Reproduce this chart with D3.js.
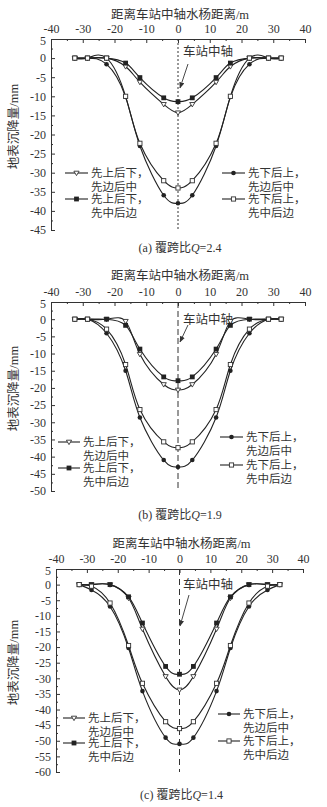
<!DOCTYPE html>
<html lang="zh">
<head>
    <meta charset="UTF-8">
    <title>地表沉降量</title>
    <script src="https://d3js.org/d3.v7.min.js"></script>
    <style>
        body { margin: 0; background: #fff; }
        text { font-family: "Liberation Serif", "Noto Sans CJK SC", serif; fill: #333; }
        .axis path, .axis line { stroke: #333; stroke-width: 1; }
        .axis text { font-size: 12px; font-family: "Liberation Serif", serif; fill: #333; }
    </style>
</head>
<body>
    <div id="chart"></div>

    <script>
        // horizontal distance of each measuring point (m)
        const distance = [-32.5, -28.5, -22.5, -16.5, -12, -4.5, 0, 4.5, 12, 16.5, 22.5, 28.5, 32.5];

        const legendLabels = [
            ["先上后下，", "先边后中"],
            ["先上后下，", "先中后边"],
            ["先下后上，", "先边后中"],
            ["先下后上，", "先中后边"]
        ];
        const markerKinds = ["triangle", "filledSquare", "filledCircle", "openSquare"];

        const xTicks = [-40, -30, -20, -10, 0, 10, 20, 30, 40];

        // (a) Q = 2.4
        const a_s1 = [0, 0, 0, -2.2, -6.3, -12.1, -14.3, -12.1, -6.3, -2.2, 0, 0, 0];
        const a_s2 = [0, 0, 0, -1.3, -5.1, -10.4, -11.4, -10.4, -5.1, -1.3, 0, 0, 0];
        const a_s3 = [0, 0, -1.6, -10.2, -23, -35.9, -38, -35.9, -23, -10.2, -1.6, 0, 0];
        const a_s4 = [0, 0, 0, -10, -22.3, -32.1, -34, -32.1, -22.3, -10, 0, 0, 0];

        // (b) Q = 1.9
        const b_s1 = [0, 0, 0, -0.6, -10.2, -19, -20.6, -19, -10.2, -0.6, 0, 0, 0];
        const b_s2 = [0, 0, 0, -1.8, -8.7, -16.8, -17.9, -16.8, -8.7, -1.8, 0, 0, 0];
        const b_s3 = [0, 0, -4.1, -15, -28.6, -41, -43, -41, -28.6, -15, -4.1, 0, 0];
        const b_s4 = [0, 0, -2.9, -13.2, -26.3, -35.7, -37.4, -35.7, -26.3, -13.2, -2.9, 0, 0];

        // (c) Q = 1.4
        const c_s1 = [0, 0, 0, -4.3, -14.2, -29.4, -33.7, -29.4, -14.2, -4.3, 0, 0, 0];
        const c_s2 = [0, 0, 0, -3.9, -12.3, -26.2, -28.7, -26.2, -12.3, -3.9, 0, 0, 0];
        const c_s3 = [0, -1.7, -7, -20.3, -34.1, -49, -51, -49, -34.1, -20.3, -7, -1.7, 0];
        const c_s4 = [0, -0.5, -5.9, -19.5, -31.6, -43.9, -46.1, -43.9, -31.6, -19.5, -5.9, -0.5, 0];

        const panels = [
            { series: [a_s1, a_s2, a_s3, a_s4], yMin: -45, x0: 51, x1: 305, yTop: 39, yBot: 230,
              title: 15, caption: 252, tag: "(a)", q: "2.4", dash: "2,2",
              note: [183, 52], arrow: [188, 64, 180, 88],
              legL: [65, 88, 173, 199], legR: [222, 245, 173, 199] },
            { series: [b_s1, b_s2, b_s3, b_s4], yMin: -50, x0: 51, x1: 305, yTop: 302, yBot: 491,
              title: 276, caption: 519, tag: "(b)", q: "1.9", dash: "6,3",
              note: [183, 320], arrow: [188, 325, 180, 342],
              legL: [58, 80, 442, 468], legR: [220, 243, 437, 465] },
            { series: [c_s1, c_s2, c_s3, c_s4], yMin: -60, x0: 56, x1: 303, yTop: 569, yBot: 772,
              title: 544, caption: 799, tag: "(c)", q: "1.4", dash: "6,4",
              note: [183, 585], arrow: [189, 595, 180, 626],
              legL: [63, 85, 718, 743], legR: [218, 240, 714, 741] }
        ];

        const svg = d3.select("#chart").append("svg")
            .attr("width", 327).attr("height", 807);

        svg.append("defs").append("marker")
            .attr("id", "head")
            .attr("viewBox", "0 0 10 10")
            .attr("refX", 9).attr("refY", 5)
            .attr("markerWidth", 7).attr("markerHeight", 7)
            .attr("orient", "auto")
            .append("path")
            .attr("d", "M0,1L10,5L0,9Z")
            .attr("fill", "#333");

        function drawMarker(g, kind, cx, cy) {
            if (kind === "triangle") {
                g.append("path")
                    .attr("d", `M${cx - 2.6},${cy - 1.8}L${cx + 2.6},${cy - 1.8}L${cx},${cy + 2.6}Z`)
                    .attr("fill", "#fff").attr("stroke", "#333").attr("stroke-width", 0.9);
            } else if (kind === "filledSquare") {
                g.append("rect").attr("x", cx - 2.4).attr("y", cy - 2.4)
                    .attr("width", 4.8).attr("height", 4.8).attr("fill", "#222");
            } else if (kind === "filledCircle") {
                g.append("circle").attr("cx", cx).attr("cy", cy).attr("r", 2.3).attr("fill", "#222");
            } else {
                g.append("rect").attr("x", cx - 2.1).attr("y", cy - 2.1)
                    .attr("width", 4.2).attr("height", 4.2)
                    .attr("fill", "#fff").attr("stroke", "#333").attr("stroke-width", 0.9);
            }
        }

        panels.forEach(p => {
            const x = d3.scaleLinear().domain([-40, 40]).range([p.x0, p.x1]);
            const y = d3.scaleLinear().domain([5, p.yMin]).range([p.yTop, p.yBot]);
            const g = svg.append("g");
            const mid = (p.x0 + p.x1) / 2 + 2;

            // top axis with minor ticks
            g.append("g").attr("class", "axis")
                .attr("transform", `translate(0,${p.yTop})`)
                .call(d3.axisTop(x).tickValues(xTicks).tickSizeInner(-4).tickSizeOuter(0)
                    .tickPadding(6).tickFormat(d => d));
            g.append("g").attr("class", "axis")
                .attr("transform", `translate(0,${p.yTop})`)
                .call(d3.axisTop(x).tickValues(d3.range(-35, 40, 10)).tickSizeInner(-2)
                    .tickSizeOuter(0).tickFormat(""))
                .select(".domain").remove();

            // left axis with minor ticks
            const yTicks = d3.range(5, p.yMin - 1, -5);
            g.append("g").attr("class", "axis")
                .attr("transform", `translate(${p.x0},0)`)
                .call(d3.axisLeft(y).tickValues(yTicks).tickSizeInner(-4).tickSizeOuter(0)
                    .tickPadding(5).tickFormat(d => d))
                .selectAll(".tick text")
                .attr("dy", d => d === 5 ? "0.45em" : "0.32em");
            g.append("g").attr("class", "axis")
                .attr("transform", `translate(${p.x0},0)`)
                .call(d3.axisLeft(y).tickValues(d3.range(2.5, p.yMin, -5)).tickSizeInner(-2)
                    .tickSizeOuter(0).tickFormat(""))
                .select(".domain").remove();

            // axis titles
            g.append("text")
                .attr("x", mid).attr("y", p.title)
                .attr("dy", "0.35em")
                .attr("text-anchor", "middle")
                .style("font-size", "12.5px")
                .text("距离车站中轴水杨距离/m");
            g.append("text")
                .attr("transform", `translate(14,${(p.yTop + p.yBot) / 2 - 8}) rotate(-90)`)
                .attr("dy", "0.35em")
                .attr("text-anchor", "middle")
                .style("font-size", "12.5px")
                .text("地表沉降量/mm");

            // station centre line
            g.append("line")
                .attr("x1", x(0)).attr("x2", x(0))
                .attr("y1", p.yTop).attr("y2", p.yBot)
                .attr("stroke", "#333").attr("stroke-width", 1)
                .attr("stroke-dasharray", p.dash);
            g.append("text")
                .attr("x", p.note[0]).attr("y", p.note[1])
                .attr("dy", "0.35em")
                .style("font-size", "12.5px")
                .text("车站中轴");
            g.append("line")
                .attr("x1", p.arrow[0]).attr("y1", p.arrow[1])
                .attr("x2", p.arrow[2]).attr("y2", p.arrow[3])
                .attr("stroke", "#333").attr("stroke-width", 0.9)
                .attr("marker-end", "url(#head)");

            // curves
            const line = d3.line()
                .x((d, i) => x(distance[i]))
                .y(d => y(d))
                .curve(d3.curveNatural);
            p.series.forEach(vals => {
                g.append("path")
                    .datum(vals)
                    .attr("d", line)
                    .attr("fill", "none")
                    .attr("stroke", "#222")
                    .attr("stroke-width", 1.1);
            });
            p.series.forEach((vals, si) => {
                vals.forEach((v, i) => drawMarker(g, markerKinds[si], x(distance[i]), y(v)));
            });

            // legends
            const legend = (lx0, lx1, ya, yb, first) => {
                [ya, yb].forEach((ly, k) => {
                    const si = first + k;
                    g.append("line")
                        .attr("x1", lx0).attr("x2", lx1)
                        .attr("y1", ly).attr("y2", ly)
                        .attr("stroke", "#222").attr("stroke-width", 1.1);
                    drawMarker(g, markerKinds[si], (lx0 + lx1) / 2, ly);
                    legendLabels[si].forEach((t, j) => {
                        g.append("text")
                            .attr("x", lx1 + 3).attr("y", ly + j * 13.5)
                            .attr("dy", "0.35em")
                            .style("font-size", "11.5px")
                            .text(t);
                    });
                });
            };
            legend(p.legL[0], p.legL[1], p.legL[2], p.legL[3], 0);
            legend(p.legR[0], p.legR[1], p.legR[2], p.legR[3], 2);

            // caption
            const cap = g.append("text")
                .attr("x", mid).attr("y", p.caption)
                .attr("text-anchor", "middle")
                .style("font-size", "12px");
            cap.append("tspan").text(p.tag + " 覆跨比");
            cap.append("tspan").style("font-style", "italic").text("Q");
            cap.append("tspan").text("=" + p.q);
        });
    </script>
</body>
</html>
